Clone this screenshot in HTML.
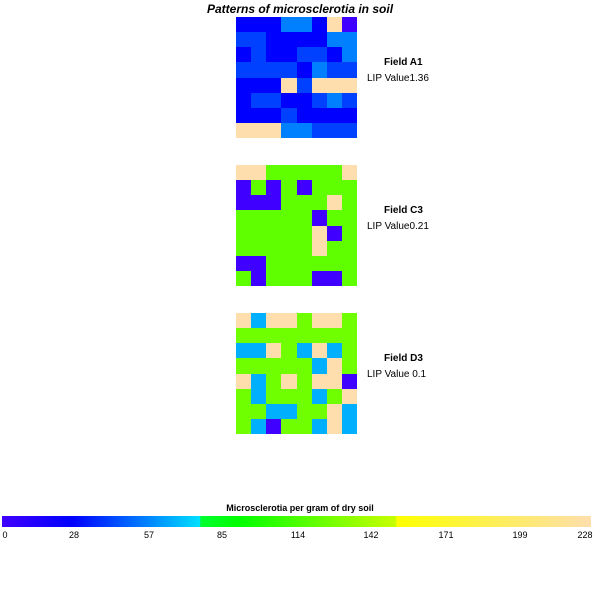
<!DOCTYPE html>
<html><head><meta charset="utf-8"><style>
body{margin:0;width:600px;height:592px;background:#fff;position:relative;font-family:"Liberation Sans",sans-serif;overflow:hidden}
.t{position:absolute;white-space:nowrap}
.g{position:absolute;display:grid;grid-template-columns:repeat(8,1fr);grid-template-rows:repeat(8,1fr);width:121px;height:121px}
.g div{width:100%;height:100%}
</style></head><body>
<div class="t" style="left:0;width:600px;text-align:center;top:2px;font-size:12px;font-weight:bold;font-style:italic">Patterns of microsclerotia in soil</div>
<div id="a" class="g" style="left:236px;top:17px"></div>
<div id="c" class="g" style="left:236px;top:165px"></div>
<div id="d" class="g" style="left:236px;top:313px"></div>
<div class="t" style="left:384px;top:57px;font-size:10px;font-weight:bold">Field A1</div>
<div class="t" style="left:367px;top:73px;font-size:10px">LIP Value1.36</div>
<div class="t" style="left:384px;top:205px;font-size:10px;font-weight:bold">Field C3</div>
<div class="t" style="left:367px;top:221px;font-size:10px">LIP Value0.21</div>
<div class="t" style="left:384px;top:353px;font-size:10px;font-weight:bold">Field D3</div>
<div class="t" style="left:367px;top:369px;font-size:10px">LIP Value 0.1</div>
<div class="t" style="left:0;width:600px;text-align:center;top:503px;font-size:9px;font-weight:bold">Microsclerotia per gram of dry soil</div>
<div style="position:absolute;left:2px;top:516px;width:589px;height:11px;background:linear-gradient(to right,#4000ff 0%,#0000ff 12%,#00e0ff 33.6%,#00ff30 33.7%,#00ff00 40%,#c8ff00 66.9%,#ffff00 67%,#ffdead 100%)"></div>
<div id="lb"></div>
<script>
var P='#ffdead',B='#0000ff',M='#0040ff',L='#0080ff',V='#4000ff',G='#60ff00',H='#70ff00',C='#00b0ff';
var A=["BBBLLBPV","MMBBBBLL","BMBBMMBL","MMMMBLMM","BBBPMPPP","BMMBBMLM","BBBMBBBB","PPPLLMMM"];
var Cc=["PPGGGGGP","VGVGVGGG","VVVGGGPG","GGGGGVGG","GGGGGPVG","GGGGGPGG","VVGGGGGG","GVGGGVVG"];
var D=["PCPPGPPG","GGGGGGGG","CCPGCPCG","GGGGGCPG","PCGPGPPV","GCGGGCGP","GGCCGGPC","GCVGGCPC"];
function f(id,rows,map){var e=document.getElementById(id);rows.join('').split('').forEach(function(ch){var d=document.createElement('div');d.style.background=map[ch];e.appendChild(d);});}
f('a',A,{B:B,M:M,L:L,P:P,V:V});f('c',Cc,{G:G,V:V,P:P});f('d',D,{G:H,C:C,P:P,V:V});
var labs=[[0,5],[28,74],[57,149],[85,222],[114,298],[142,371],[171,446],[199,520],[228,585]];
var lb=document.getElementById('lb');labs.forEach(function(l){var d=document.createElement('div');d.className='t';d.style.cssText='top:530px;font-size:9px;width:40px;text-align:center;left:'+(l[1]-20)+'px';d.textContent=l[0];lb.appendChild(d);});
</script>
</body></html>
